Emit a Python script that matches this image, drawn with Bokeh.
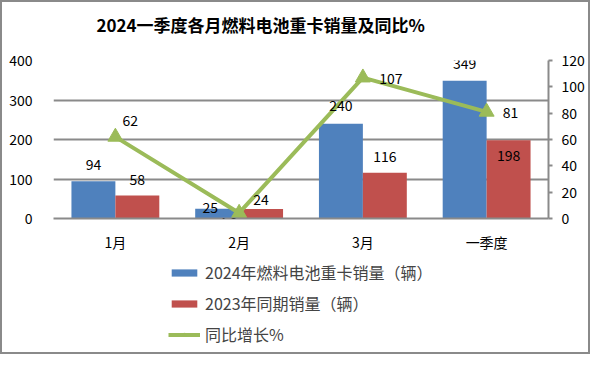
from bokeh.plotting import figure
from bokeh.layouts import column
from bokeh.models import (ColumnDataSource, Range1d, FactorRange, LinearAxis, FixedTicker,
                          LabelSet, Legend, LegendItem)
from bokeh.core.properties import value
from bokeh.transform import dodge
from bokeh.embed import file_html
from bokeh.resources import INLINE

# ---- data ----
categories = ["1月", "2月", "3月", "一季度"]
sales_2024 = [94, 25, 240, 349]
sales_2023 = [58, 24, 116, 198]
yoy_pct = [62, 4.2, 107, 81]
left_ticks = [0, 100, 200, 300, 400]
right_ticks = [0, 20, 40, 60, 80, 100, 120]
title_text = "2024一季度各月燃料电池重卡销量及同比%"
legend_labels = ["2024年燃料电池重卡销量（辆）", "2023年同期销量（辆）", "同比增长%"]

FONT = "Noto Sans CJK SC"
BLUE = "#4F81BD"
RED = "#C0504D"
GREEN = "#9BBB59"
GRAY = "#8a8a8a"

src = ColumnDataSource(dict(
    cat=categories,
    s24=sales_2024,
    s23=sales_2023,
    pct=yoy_pct,
    s24_txt=[str(v) for v in sales_2024],
    s23_txt=[str(v) for v in sales_2023],
    pct_txt=[str(v) for v in yoy_pct],
))
# label placement (screen pixels)
src.data["b_xo"] = [0, -7, 0, 0]
src.data["b_yo"] = [17, 1, 18, 17]
src.data["r_yo"] = [16, 10, 16, -15]
src.data["p_xo"] = [15, -11, 28, 24]
src.data["p_yo"] = [16, -10, -1, -1]

W = 586
BL, BR = 51, 40

# ---- title panel ----
p0 = figure(width=W, height=44, x_range=Range1d(0, 1), y_range=Range1d(0, 1),
            output_backend="svg", toolbar_location=None,
            min_border_left=BL, min_border_right=BR, min_border_top=34, min_border_bottom=0,
            x_axis_location=None, y_axis_location=None)
p0.outline_line_color = None
p0.grid.grid_line_color = None
p0.title.text = title_text
p0.title.align = "left"
p0.title.offset = 43
p0.title.text_font = FONT
p0.title.text_font_size = "17px"
p0.title.text_font_style = "bold"
p0.title.text_color = "black"
p0.title.standoff = 0

# ---- main chart ----
p = figure(width=W, height=212, x_range=FactorRange(*categories),
           y_range=Range1d(0, 400), output_backend="svg", toolbar_location=None,
           min_border_left=BL, min_border_right=BR, min_border_top=14, min_border_bottom=40)
p.extra_y_ranges = {"pct": Range1d(0, 120)}

p.outline_line_color = None
p.xgrid.grid_line_color = None
p.ygrid.grid_line_color = GRAY
p.ygrid.grid_line_width = 2
p.ygrid.ticker = FixedTicker(ticks=left_ticks)

ya = p.yaxis[0]
ya.ticker = FixedTicker(ticks=left_ticks)
ya.axis_line_color = None
ya.major_tick_line_color = None
ya.minor_tick_line_color = None
ya.major_label_text_font = FONT
ya.major_label_text_font_size = "14px"
ya.major_label_text_color = "black"
ya.major_label_standoff = 15

xa = p.xaxis[0]
xa.axis_line_color = GRAY
xa.axis_line_width = 2
xa.major_tick_line_color = None
xa.minor_tick_line_color = None
xa.major_label_text_font = FONT
xa.major_label_text_font_size = "14px"
xa.major_label_text_color = "black"
xa.major_label_standoff = 7

ra = LinearAxis(y_range_name="pct", ticker=FixedTicker(ticks=right_ticks))
ra.axis_line_color = GRAY
ra.axis_line_width = 2
ra.major_tick_line_color = GRAY
ra.major_tick_line_width = 2
ra.major_tick_in = 0
ra.major_tick_out = 4
ra.minor_tick_line_color = None
ra.major_label_text_font = FONT
ra.major_label_text_font_size = "14px"
ra.major_label_text_color = "black"
ra.major_label_standoff = 9
p.add_layout(ra, "right")

bw = 0.355
p.vbar(x=dodge("cat", -bw / 2, range=p.x_range), top="s24", width=bw, source=src,
       fill_color=BLUE, line_color=None)
p.vbar(x=dodge("cat", bw / 2, range=p.x_range), top="s23", width=bw, source=src,
       fill_color=RED, line_color=None)
p.line(x="cat", y="pct", source=src, y_range_name="pct", line_color=GREEN, line_width=4)
p.scatter(x="cat", y="pct", source=src, y_range_name="pct", marker="triangle", size=15,
          fill_color=GREEN, line_color=GREEN)

common = dict(text_font=value(FONT), text_font_size="14px", text_color="black",
              text_align="center", text_baseline="middle", source=src)
p.add_layout(LabelSet(x=dodge("cat", -bw / 2, range=p.x_range), y="s24", text="s24_txt",
                      x_offset="b_xo", y_offset="b_yo", **common))
p.add_layout(LabelSet(x=dodge("cat", bw / 2, range=p.x_range), y="s23", text="s23_txt",
                      y_offset="r_yo", **common))
p.add_layout(LabelSet(x="cat", y="pct", y_range_name="pct", text="pct_txt",
                      x_offset="p_xo", y_offset="p_yo", **common))

# ---- legend panel (key swatches drawn off-range, only the legend shows) ----
p2 = figure(width=W, height=94, x_range=Range1d(0, 1), y_range=Range1d(0, 1),
            output_backend="svg", toolbar_location=None,
            min_border_left=BL, min_border_right=BR, min_border_top=0, min_border_bottom=0,
            x_axis_location=None, y_axis_location=None)
p2.outline_line_color = None
p2.grid.grid_line_color = None
key = ColumnDataSource(dict(x=[-10, -9], y=[-10, -10]))
g1 = p2.vbar(x="x", top="y", width=0.1, source=key, fill_color=BLUE, line_color=None)
g2 = p2.vbar(x="x", top="y", width=0.1, source=key, fill_color=RED, line_color=None)
g3 = p2.line(x="x", y="y", source=key, line_color=GREEN, line_width=4)
g4 = p2.scatter(x="x", y="y", source=key, marker="triangle", size=12,
                fill_color=GREEN, line_color=GREEN)

legend = Legend(items=[LegendItem(label=legend_labels[0], renderers=[g1]),
                       LegendItem(label=legend_labels[1], renderers=[g2]),
                       LegendItem(label=legend_labels[2], renderers=[g3, g4])],
                location=(115, 6), orientation="vertical",
                glyph_width=32, glyph_height=9, label_height=20, spacing=7,
                label_standoff=5, padding=0, margin=0,
                label_text_font=FONT, label_text_font_size="16px",
                border_line_color=None, background_fill_alpha=0)
p2.add_layout(legend, "center")

layout = column(p0, p, p2, spacing=0, styles={"border": "2px solid #8a8a8a"})

open("out.html", "w").write(file_html(layout, INLINE))
